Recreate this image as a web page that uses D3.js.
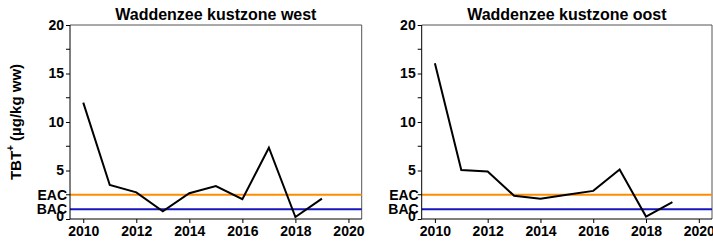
<!DOCTYPE html>
<html>
<head>
<meta charset="utf-8">
<script src="https://cdn.jsdelivr.net/npm/d3@7"></script>
<style>
  body { margin: 0; background: #fff; }
  text { font-family: Arial, "Liberation Sans", sans-serif; font-weight: bold; }
</style>
</head>
<body>
<svg id="chart" width="713" height="244"></svg>
<script>
// data
var years = [2010, 2011, 2012, 2013, 2014, 2015, 2016, 2017, 2018, 2019];
var west = [12.0, 3.5, 2.75, 0.8, 2.65, 3.4, 2.05, 7.35, 0.2, 2.1];
var oost = [16.05, 5.05, 4.9, 2.4, 2.1, 2.5, 2.9, 5.1, 0.25, 1.75];
var titles = ['Waddenzee kustzone west', 'Waddenzee kustzone oost'];
var xTicks = [2010, 2012, 2014, 2016, 2018, 2020];
var yTicks = [0, 5, 10, 15, 20];
var yMinor = [2.5, 7.5, 12.5, 17.5];
var EAC = 2.5;
var BAC = 1.0;

var svg = d3.select('#chart');

// one panel per area
var panels = [
  {left: 70, right: 361.7, values: west, title: titles[0]},
  {left: 421.7, right: 712, values: oost, title: titles[1]}
];
var yTop = 25, yBottom = 219;

var y = d3.scaleLinear().domain([0, 20]).range([yBottom, yTop]);

panels.forEach(function(p, i) {
  var x = d3.scaleLinear().domain([2009.5, 2020.5]).range([p.left, p.right]);
  var g = svg.append('g');

  // frame (top and right)
  g.append('path')
    .attr('d', 'M' + p.left + ',' + yTop + 'H' + p.right + 'V' + yBottom)
    .attr('fill', 'none').attr('stroke', '#555').attr('stroke-width', 1);

  // threshold lines
  g.append('line')
    .attr('x1', p.left).attr('x2', p.right)
    .attr('y1', y(EAC)).attr('y2', y(EAC))
    .attr('stroke', '#ff8c00').attr('stroke-width', 2);
  g.append('line')
    .attr('x1', p.left).attr('x2', p.right)
    .attr('y1', y(BAC)).attr('y2', y(BAC))
    .attr('stroke', '#1515c0').attr('stroke-width', 2);

  // the series
  var line = d3.line()
    .x(function(d, k) { return x(years[k]); })
    .y(function(d) { return y(d); });
  g.append('path')
    .datum(p.values)
    .attr('d', line)
    .attr('fill', 'none').attr('stroke', '#000').attr('stroke-width', 2);

  // x axis
  var xAxis = g.append('g')
    .attr('transform', 'translate(0,' + yBottom + ')')
    .call(d3.axisBottom(x).tickValues(xTicks).tickFormat(d3.format('d')).tickSize(4).tickPadding(3));
  xAxis.select('.domain').attr('d', 'M' + p.left + ',0H' + p.right).attr('stroke', '#000');
  xAxis.selectAll('text').attr('font-size', 14).attr('fill', '#000')
    .style('font-family', 'Arial, "Liberation Sans", sans-serif');

  // y axis
  var yAxis = g.append('g')
    .attr('transform', 'translate(' + p.left + ',0)')
    .call(d3.axisLeft(y).tickValues(yTicks).tickSize(4).tickPadding(2));
  yAxis.select('.domain').attr('d', 'M0,' + yBottom + 'V' + yTop).attr('stroke', '#000');
  yAxis.selectAll('text').attr('font-size', 14).attr('fill', '#000')
    .style('font-family', 'Arial, "Liberation Sans", sans-serif');
  yAxis.selectAll('.tick').filter(function(d) { return d === 0; })
    .select('text').attr('dy', '0.1em');

  g.append('g').selectAll('line')
    .data(yMinor).enter().append('line')
    .attr('x1', p.left - 4).attr('x2', p.left)
    .attr('y1', function(d) { return y(d); })
    .attr('y2', function(d) { return y(d); })
    .attr('stroke', '#000');

  // EAC / BAC labels
  g.append('text').attr('x', p.left - 3).attr('y', y(EAC)).attr('dy', '0.36em')
    .attr('text-anchor', 'end').attr('font-size', 14).text('EAC');
  g.append('text').attr('x', p.left - 3).attr('y', y(BAC)).attr('dy', '0.36em')
    .attr('text-anchor', 'end').attr('font-size', 14).text('BAC');

  // title
  g.append('text')
    .attr('x', (p.left + p.right) / 2).attr('y', 20)
    .attr('text-anchor', 'middle').attr('font-size', 16)
    .text(p.title);
});

// y axis title
var yt = svg.append('text')
  .attr('transform', 'translate(21,' + ((yTop + yBottom) / 2) + ') rotate(-90)')
  .attr('text-anchor', 'middle').attr('font-size', 15);
yt.append('tspan').text('TBT');
yt.append('tspan').attr('font-size', 10).attr('dy', -7).text('+');
yt.append('tspan').attr('dy', 7).text('  (µg/kg ww)');
</script>
</body>
</html>
